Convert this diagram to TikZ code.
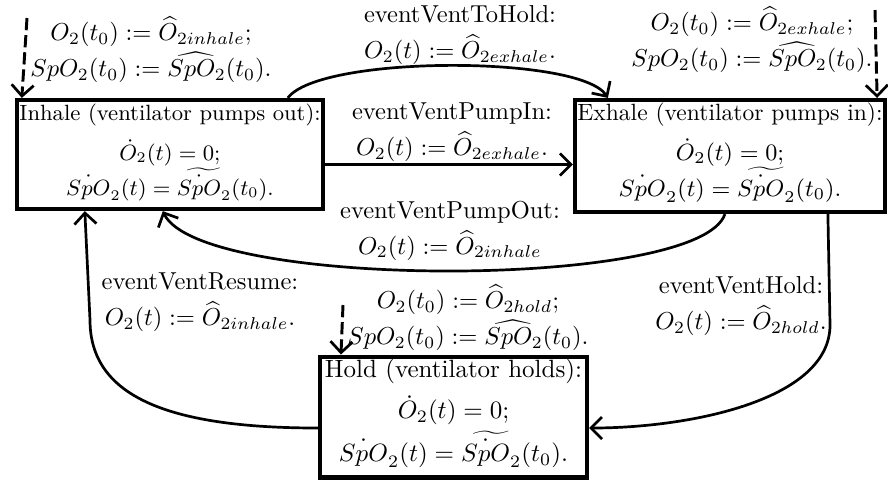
\RequirePackage{fix-cm}
\documentclass[tikz,border=0pt]{standalone}
\usepackage{amsmath}
\usetikzlibrary{arrows.meta,calc}
\newcommand\fixedls{\lineskiplimit-20pt\relax}
\begin{document}
\begin{tikzpicture}[x=0.408pt,y=-0.408pt,
  state/.style={draw,line width=1.7pt,inner sep=1pt,align=center},
  lbl/.style={align=center,inner sep=0pt,font=\fontsize{10}{14.7}\selectfont\fixedls},
  arr/.style={line width=1.1pt,-{Straight Barb[length=4.5pt,width=9pt,line width=1.1pt]}},
  initarr/.style={line width=1.2pt,dash pattern=on 5pt off 2pt,-{Straight Barb[length=4.5pt,width=9pt,line width=1.1pt]}}]
\useasboundingbox (0,0) rectangle (888,481);

% states
\node[state,minimum width=122.4pt,minimum height=44.5pt,
      font=\fontsize{9}{16.3}\selectfont\fixedls] (inhale) at (170,154.5)
  {Inhale (ventilator pumps out):\\
   $\dot{O}_2(t)=0;$\\[-2pt]
   $\dot{SpO}_2(t)=\widetilde{\dot{SpO}_2}(t_0).$\rule[-4.25pt]{0pt}{4.25pt}};
\node[state,minimum width=126.5pt,minimum height=45.7pt,
      font=\fontsize{9.6}{16.3}\selectfont\fixedls] (exhale) at (730,156)
  {Exhale (ventilator pumps in):\\
   $\dot{O}_2(t)=0;$\\[-1.6pt]
   $\dot{SpO}_2(t)=\widetilde{\dot{SpO}_2}(t_0).$\rule[-5.2pt]{0pt}{5.2pt}};
\node[state,minimum width=108.9pt,minimum height=49pt,
      font=\fontsize{10.2}{16.7}\selectfont\fixedls] (hold) at (453.5,417)
  {Hold (ventilator holds):\\
   $\dot{O}_2(t)=0;$\\[0.8pt]
   $\dot{SpO}_2(t)=\widetilde{\dot{SpO}_2}(t_0).$\rule[-5.45pt]{0pt}{5.45pt}};

% initial labels
\node[lbl] (iinhale) at (151,50)
  {$O_2(t_0) := \widehat{O}_{2inhale};$\\ $SpO_2(t_0) := \widehat{SpO_2}(t_0).$};
\node[lbl] (iexhale) at (752,40)
  {$O_2(t_0) := \widehat{O}_{2exhale};$\\ $SpO_2(t_0) := \widehat{SpO_2}(t_0).$};
\node[lbl] (ihold) at (468,318)
  {$O_2(t_0) := \widehat{O}_{2hold};$\\ $SpO_2(t_0) := \widehat{SpO_2}(t_0).$};

% transition labels
\node[lbl] (ltohold) at (460,35.3) {eventVentToHold:\\ $O_2(t) := \widehat{O}_{2exhale}.$};
\node[lbl] (lpumpin) at (452,132.6) {eventVentPumpIn:\\ $O_2(t) := \widehat{O}_{2exhale}.$};
\node[lbl] (lpumpout) at (450,230.6) {eventVentPumpOut:\\ $O_2(t) := \widehat{O}_{2inhale}$};
\node[lbl] (lresume) at (200,302.6) {eventVentResume:\\ $O_2(t) := \widehat{O}_{2inhale}.$};
\node[lbl] (lhold) at (741,306) {eventVentHold:\\ $O_2(t) := \widehat{O}_{2hold}.$};

% initial arrows
\coordinate (sinhale) at (27,18);
\coordinate (sexhale) at (875,10);
\coordinate (shold) at (343,305);
\draw[initarr] (sinhale) -- ([shift={(7,0)}]inhale.north west);
\draw[initarr] (sexhale) -- ([shift={(-10,0)}]exhale.north east);
\draw[initarr] (shold) -- ([shift={(23,0)}]hold.north west);

% transitions
\draw[arr] ([shift={(273,0)}]inhale.north west) .. controls (320,55) and (580,55) .. ([shift={(35,0)}]exhale.north west);
\draw[arr] ([shift={(0,10)}]inhale.east) -- ([shift={(0,10)}]inhale.east -| exhale.west);
\draw[arr] ([shift={(152,0)}]exhale.south west) .. controls (700,290) and (200,290) .. ([shift={(148,0)}]inhale.south west);
\draw[arr] ([shift={(0,11)}]hold.west) .. controls (165,428) and (90,395) .. (90,320) -- ([shift={(70,0)}]inhale.south west);
\draw[arr] ([shift={(255,0)}]exhale.south west) -- (830,325) .. controls (830,400) and (690,428) .. ([shift={(0,11)}]hold.east);
\end{tikzpicture}
\end{document}
